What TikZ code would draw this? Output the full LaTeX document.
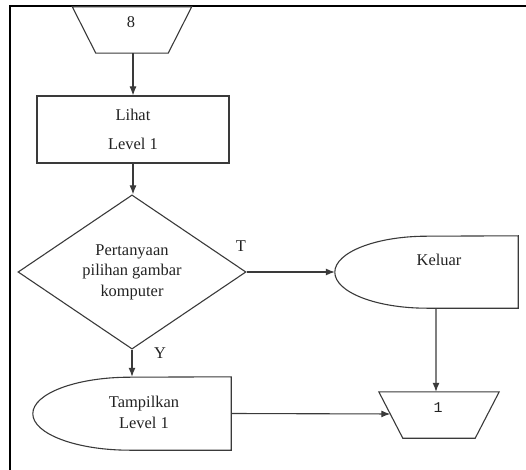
\documentclass[tikz,border=0pt]{standalone}
\usepackage{fontspec}
\setmainfont{Liberation Serif}
\newfontfamily\monofnt{Liberation Mono}
\usetikzlibrary{arrows.meta,shapes.geometric,calc}
\definecolor{ln}{HTML}{3A3A3A}
\definecolor{tx}{HTML}{222222}
\begin{document}
\begin{tikzpicture}[x=1bp,y=-1bp,
  every node/.style={text=tx,font=\fontsize{16.5}{20.5}\selectfont},
  box/.style={draw=none,inner sep=0,minimum width=#1},
  shp/.style={draw=ln,line width=1.1bp},
  arr/.style={draw=ln,line width=1.1bp,-{Latex[length=9bp,width=7bp]}},
  lbl/.style={inner sep=0}]
\useasboundingbox (0,0) rectangle (526,470);
% frame
\draw[line width=2bp,black] (526,6) -- (10,6) -- (10,470);

% trapezoid 8
\node[box=119bp,minimum height=46bp] (t8) at (132,30) {};
\draw[shp] (t8.north west) -- (t8.north east) -- ([xshift=-23.5bp]t8.south east) -- ([xshift=23.5bp]t8.south west) -- cycle;
\node[lbl] (t8txt) at (131,22) {8};

% Lihat rectangle
\node[shp,draw,inner sep=0,minimum width=192bp,minimum height=67bp,align=center] (lihat) at (133,129.5) {Lihat\\[8bp]Level 1};

% decision diamond
\node[shp,draw,diamond,inner sep=0,minimum width=228bp,minimum height=138bp,align=center] (dia) at (132,272) {Pertanyaan\\pilihan gambar\\komputer};

% Keluar (display shape)
\node[box=183bp,minimum height=72bp] (kel) at (426.5,272) {};
\draw[shp] (kel.north east) -- (kel.south east) -- ([xshift=92bp]kel.south west) arc[start angle=270,end angle=90,x radius=92bp,y radius=36bp] -- cycle;
\node[lbl] (keltxt) at (439,260) {Keluar};

% Tampilkan (display shape)
\node[box=198bp,minimum height=73bp] (tamp) at (132,413.5) {};
\draw[shp] (tamp.north east) -- (tamp.south east) -- ([xshift=97bp]tamp.south west) arc[start angle=270,end angle=90,x radius=97bp,y radius=36.5bp] -- cycle;
\node[lbl,align=center] (tamptxt) at (144,412.5) {Tampilkan\\Level 1};

% trapezoid 1
\node[box=120bp,minimum height=46bp] (t1) at (439,415) {};
\draw[shp] (t1.north west) -- (t1.north east) -- ([xshift=-24bp]t1.south east) -- ([xshift=24bp]t1.south west) -- cycle;
\node[lbl,font=\monofnt\fontsize{15}{18}\selectfont] (t1txt) at (438,408) {1};
\coordinate (t1w) at ($(t1.north west)!0.478!([xshift=24bp]t1.south west)$);

% labels
\node[lbl] (lt) at (241,246) {T};
\node[lbl] (ly) at (160,353) {Y};

% connectors
\draw[arr] (t8.south -| lihat.north) -- (lihat.north);
\draw[arr] (lihat.south) -- (lihat.south |- dia.north);
\draw[arr] (dia.east) -- (kel.west);
\draw[arr] (dia.south) -- (dia.south |- tamp.north);
\draw[arr] ([xshift=9.5bp]kel.south) -- ([xshift=-3bp]t1.north);
\draw[arr] (tamp.east) -- (t1w);
\end{tikzpicture}
\end{document}
